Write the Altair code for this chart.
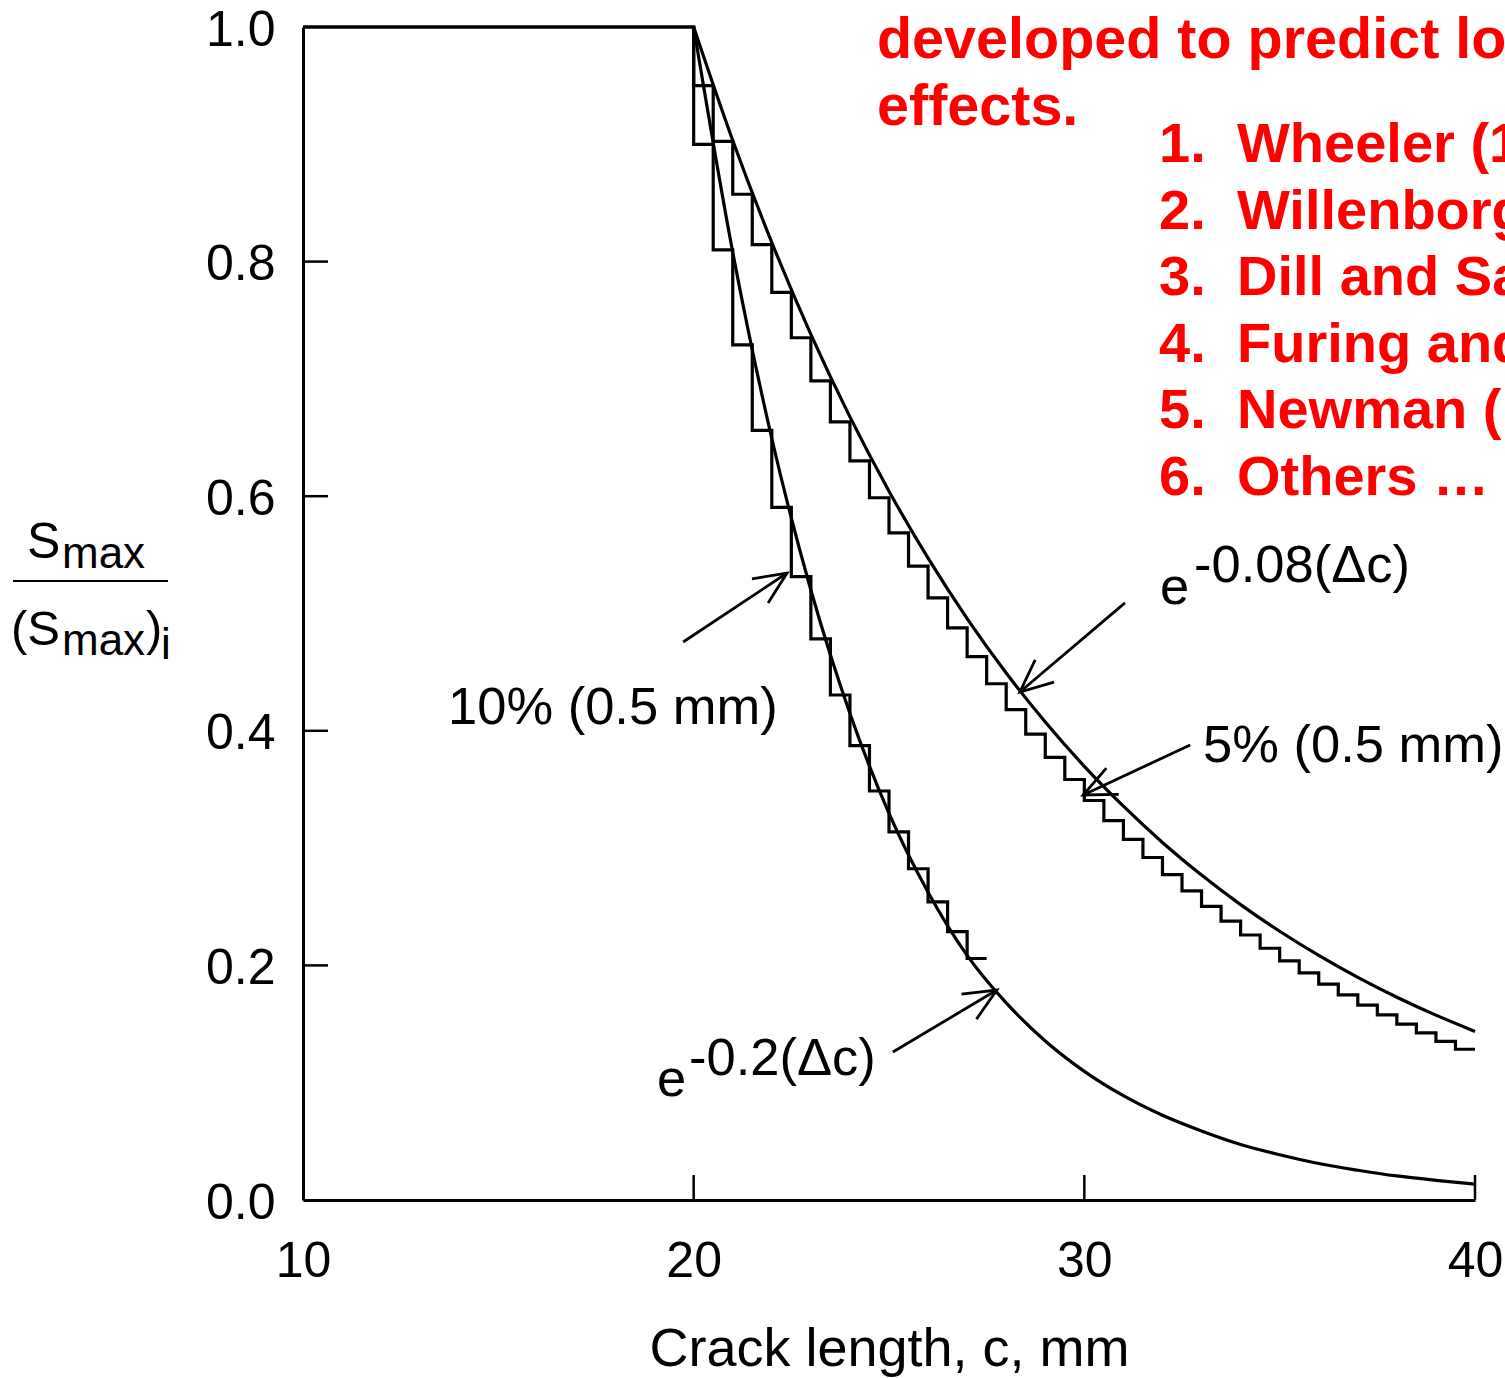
import math
import altair as alt
import pandas as pd

# ---------------- data ----------------
# staircase, 5 % reduction per 0.5 mm of growth
step5_c = [10.0, 20.0, 20.5, 21.0, 21.5, 22.0, 22.5, 23.0, 23.5, 24.0, 24.5,
           25.0, 25.5, 26.0, 26.5, 27.0, 27.5, 28.0, 28.5, 29.0, 29.5,
           30.0, 30.5, 31.0, 31.5, 32.0, 32.5, 33.0, 33.5, 34.0, 34.5,
           35.0, 35.5, 36.0, 36.5, 37.0, 37.5, 38.0, 38.5, 39.0, 39.5, 40.0]
step5_s = [1.0, 0.9500, 0.9025, 0.8574, 0.8145, 0.7738, 0.7351, 0.6983, 0.6634,
           0.6302, 0.5987, 0.5688, 0.5404, 0.5133, 0.4877, 0.4633, 0.4401,
           0.4181, 0.3972, 0.3774, 0.3585, 0.3406, 0.3235, 0.3074, 0.2920,
           0.2774, 0.2635, 0.2503, 0.2378, 0.2259, 0.2146, 0.2039, 0.1937,
           0.1840, 0.1748, 0.1661, 0.1578, 0.1499, 0.1424, 0.1353, 0.1285, 0.1285]

# staircase, 10 % reduction per 0.5 mm of growth
step10_c = [10.0, 20.0, 20.5, 21.0, 21.5, 22.0, 22.5, 23.0, 23.5, 24.0, 24.5,
            25.0, 25.5, 26.0, 26.5, 27.0, 27.5]
step10_s = [1.0, 0.9000, 0.8100, 0.7290, 0.6561, 0.5905, 0.5314, 0.4783,
            0.4305, 0.3874, 0.3487, 0.3138, 0.2824, 0.2542, 0.2288, 0.2059, 0.2059]

# smooth exponential fits
curve_c = [20, 21, 22, 23, 24, 25, 26, 27, 28, 29, 30,
           31, 32, 33, 34, 35, 36, 37, 38, 39, 40]
curve_upper = [1.0, 0.9033, 0.8163, 0.7380, 0.6676, 0.6043, 0.5472, 0.4957,
               0.4493, 0.4075, 0.3697, 0.3357, 0.3048, 0.2770, 0.2518, 0.2291,
               0.2085, 0.1898, 0.1729, 0.1576, 0.1437]
curve_lower = [1.0, 0.8080, 0.6492, 0.5200, 0.4148, 0.3296, 0.2624, 0.2085,
               0.1680, 0.1356, 0.1097, 0.0889, 0.0722, 0.0588, 0.0473, 0.0386,
               0.0311, 0.0254, 0.0205, 0.0168, 0.0136]

x_ticks = [10, 20, 30, 40]
y_ticks = [0.0, 0.2, 0.4, 0.6, 0.8, 1.0]
inner_x_ticks = [20, 30, 40]
inner_y_ticks = [0.2, 0.4, 0.6, 0.8]

# ---------------- layout ----------------
LEFT, TOP, RIGHT, BOTTOM = 303, 27, 30, 178
W, H = 1172, 1173
FONT = "Liberation Sans"
PXC = W / 30.0   # pixels per mm
PXS = H / 1.0    # pixels per unit ratio
LW = 3.2

xscale = alt.Scale(domain=[10, 40], nice=False, zero=False)
yscale = alt.Scale(domain=[0, 1], nice=False, zero=False)

x_axis = alt.Axis(values=x_ticks, format="d", ticks=False, grid=False,
                  domainColor="black", domainWidth=3,
                  labelFont=FONT, labelFontSize=50, labelColor="black",
                  labelPadding=36, labelFlush=False, labelOverlap=False,
                  title="Crack length, c, mm", titleFont=FONT, titleFontSize=54,
                  titleFontWeight="normal", titleColor="black", titlePadding=36)
y_axis = alt.Axis(values=y_ticks, format=".1f", ticks=False, grid=False,
                  domainColor="black", domainWidth=3,
                  labelFont=FONT, labelFontSize=50, labelColor="black",
                  labelPadding=28, labelOffset=3, labelFlush=False,
                  labelOverlap=False, title=None)


def X(field):
    return alt.X(field, type="quantitative", scale=xscale, axis=x_axis)


def Y(field):
    return alt.Y(field, type="quantitative", scale=yscale, axis=y_axis)


df5 = pd.DataFrame({"c": step5_c, "s": step5_s})
df10 = pd.DataFrame({"c": step10_c, "s": step10_s})
dfu = pd.DataFrame({"c": curve_c, "s": curve_upper})
dfl = pd.DataFrame({"c": curve_c, "s": curve_lower})

stairs5 = alt.Chart(df5).mark_line(interpolate="step-after", color="black",
                                   strokeWidth=LW).encode(x=X("c"), y=Y("s"))
stairs10 = alt.Chart(df10).mark_line(interpolate="step-after", color="black",
                                     strokeWidth=LW).encode(x=X("c"), y=Y("s"))
upper = alt.Chart(dfu).mark_line(interpolate="monotone", color="black",
                                 strokeWidth=LW).encode(x=X("c"), y=Y("s"))
lower = alt.Chart(dfl).mark_line(interpolate="monotone", color="black",
                                 strokeWidth=LW).encode(x=X("c"), y=Y("s"))

# inward tick marks
xt = alt.Chart(pd.DataFrame({"c": inner_x_ticks})).mark_rule(
    color="black", strokeWidth=2.5).encode(x=X("c"), y=alt.value(H), y2=alt.value(H - 25))
yt = alt.Chart(pd.DataFrame({"s": inner_y_ticks})).mark_rule(
    color="black", strokeWidth=2.5).encode(y=Y("s"), x=alt.value(0), x2=alt.value(25))

# arrows (tail -> tip), in data coordinates
arrows = [
    {"c0": 19.73, "s0": 0.4757, "c1": 22.39, "s1": 0.5345},
    {"c0": 31.04, "s0": 0.5090, "c1": 28.35, "s1": 0.4331},
    {"c0": 32.71, "s0": 0.3879, "c1": 29.97, "s1": 0.3453},
    {"c0": 25.10, "s0": 0.1262, "c1": 27.76, "s1": 0.1790},
]
for a in arrows:
    dx = (a["c1"] - a["c0"]) * PXC
    dy = -(a["s1"] - a["s0"]) * PXS
    a["ang"] = math.degrees(math.atan2(dy, dx)) % 360
dfa = pd.DataFrame(arrows)

shafts = alt.Chart(dfa).mark_rule(color="black", strokeWidth=2.8).encode(
    x=X("c0"), y=Y("s0"), x2="c1:Q", y2="s1:Q")
heads = alt.Chart(dfa).mark_point(
    shape="M -1 -0.45 L 0 0 L -1 0.45", filled=False, size=4200,
    color="black", strokeWidth=2.8, opacity=1, strokeJoin="miter").encode(
    x=X("c1"), y=Y("s1"), angle=alt.Angle("ang:Q", scale=None))


def ptext(txt, x, y, size, color="black", bold=False):
    return alt.Chart(alt.Data(values=[{"t": txt}])).mark_text(
        align="left", baseline="alphabetic", font=FONT, fontSize=size,
        fontWeight="bold" if bold else "normal", color=color).encode(
        x=alt.value(x - LEFT), y=alt.value(y - TOP), text="t:N")


A = 52.5
texts = [
    # y-axis title as a fraction
    ptext("S", 27, 558, 50),
    ptext("max", 62, 568, 44),
    ptext("(S", 11, 645, 49),
    ptext("max", 62, 655, 44),
    ptext(")", 146, 645, 49),
    ptext("i", 161, 659, 44),
    # annotations
    ptext("10% (0.5 mm)", 448, 724, A),
    ptext("5% (0.5 mm)", 1203, 762, A),
    ptext("e", 1160, 604, A),
    ptext("-0.08(\u0394c)", 1194, 582, A),
    ptext("e", 657, 1096, A),
    ptext("-0.2(\u0394c)", 689, 1075, A),
    # red bold text block
    ptext("developed to predict load interaction", 877, 58, 57.5, "#ff0000", True),
    ptext("effects.", 877, 125, 57.5, "#ff0000", True),
]
models = ["Wheeler (1972)", "Willenborg et al. (1971)", "Dill and Saff (1976)",
          "Furing and Seeger (1979)", "Newman (1981)", "Others \u2026"]
for i, m in enumerate(models):
    yb = 162 + 66.6 * i
    texts.append(ptext(f"{i + 1}.", 1159, yb, 56, "#ff0000", True))
    texts.append(ptext(m, 1237, yb, 56, "#ff0000", True))

frac_bar = alt.Chart(alt.Data(values=[{}])).mark_rule(
    color="black", strokeWidth=2.2).encode(
    x=alt.value(13 - LEFT), x2=alt.value(168 - LEFT), y=alt.value(581 - TOP))

chart = alt.layer(
    stairs5, stairs10, upper, lower, xt, yt, shafts, heads, frac_bar, *texts
).properties(
    width=W, height=H, background="white",
    autosize=alt.AutoSizeParams(type="none"),
    padding={"left": LEFT, "top": TOP, "right": RIGHT, "bottom": BOTTOM},
).configure_view(strokeWidth=0, stroke="transparent")

chart.save("out.html", embed_options={"renderer": "svg", "actions": False})
